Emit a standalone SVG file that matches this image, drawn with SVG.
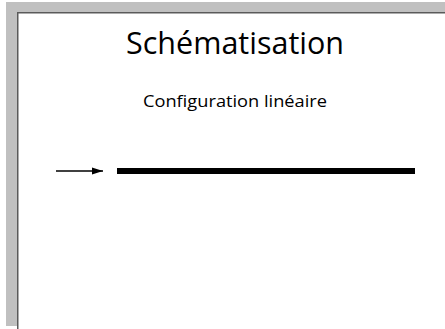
<svg xmlns="http://www.w3.org/2000/svg" width="445" height="329" viewBox="0 0 445 329">
  <style>
    .title { font-family: "Open Sans", "Liberation Sans", Arial, sans-serif; fill: #000; }
    .frame-band { fill: #c0c0c0; }
    .frame-edge { fill: #5a5a5a; }
  </style>
  <defs>
    <marker id="arrowhead" markerUnits="userSpaceOnUse" markerWidth="11" markerHeight="8" refX="11" refY="4" orient="auto">
      <polygon points="0,0.5 11,4 0,7.5" fill="#000"/>
    </marker>
  </defs>

  <!-- page background and window frame -->
  <rect x="0" y="0" width="445" height="329" fill="#fff"/>
  <g id="frame">
    <rect class="frame-band" x="6" y="2" width="439" height="324"/>
    <rect x="17" y="12" width="428" height="317" fill="#fff"/>
    <rect class="frame-edge" x="17" y="12" width="428" height="1.5"/>
    <rect class="frame-edge" x="17" y="12" width="1.5" height="317"/>
  </g>

  <!-- headings -->
  <g id="heading">
    <text class="title" x="126" y="54" font-size="31" textLength="218" lengthAdjust="spacingAndGlyphs">Schématisation</text>
  </g>
  <g id="subheading">
    <text class="title" x="143" y="107" font-size="16" textLength="184" lengthAdjust="spacingAndGlyphs">Configuration linéaire</text>
  </g>

  <!-- linear configuration bar -->
  <g id="bar">
    <rect x="117" y="168" width="298" height="6" fill="#000"/>
  </g>

  <!-- incoming arrow -->
  <g id="connectors">
    <line x1="56" y1="171" x2="103" y2="171" stroke="#000" stroke-width="1.4" marker-end="url(#arrowhead)"/>
  </g>
</svg>
